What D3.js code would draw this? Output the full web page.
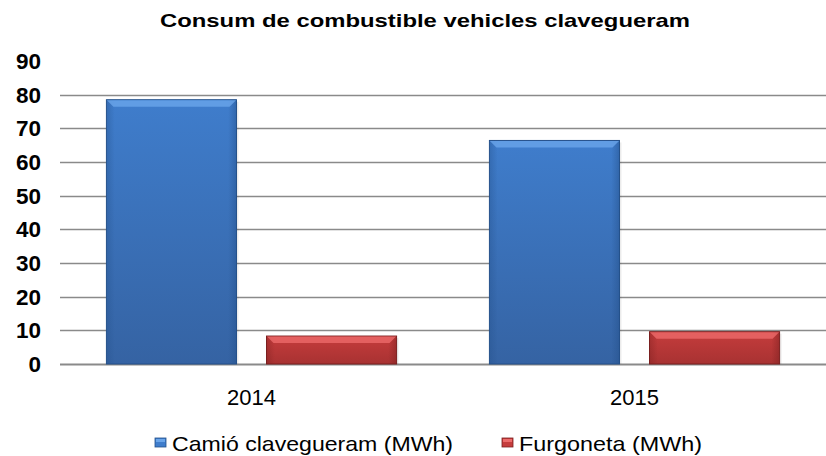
<!DOCTYPE html>
<html>
<head>
<meta charset="utf-8">
<script src="https://cdn.jsdelivr.net/npm/d3@7/dist/d3.min.js"></script>
<style>
  body { margin: 0; background: #fff; }
  text { font-family: "Liberation Sans", Arial, sans-serif; fill: #000; }
</style>
</head>
<body>
<div id="chart"></div>
<script>
// data
var years = ["2014", "2015"];
var seriesNames = ["Camió clavegueram (MWh)", "Furgoneta (MWh)"];
var camio = [78.5, 66.4];
var furgoneta = [8.3, 9.6];
var yTicks = [0, 10, 20, 30, 40, 50, 60, 70, 80, 90];

const width = 826, height = 456;
const margin = {top: 61, right: 0, bottom: 92, left: 60};
const colors = [
  {main: "#3f7dcc", top: "#6aa5ea", bottom: "#3563a3", edge: "#24508a"},
  {main: "#c53c3c", top: "#ec6a6a", bottom: "#a83232", edge: "#7a1f1f"}
];

var svg = d3.select("#chart").append("svg")
    .attr("width", width)
    .attr("height", height);

var defs = svg.append("defs");
colors.forEach(function(c, i) {
  var g = defs.append("linearGradient")
      .attr("id", "grad" + i)
      .attr("x1", 0).attr("y1", 0).attr("x2", 0).attr("y2", 1);
  g.append("stop").attr("offset", "0%").attr("stop-color", c.main);
  g.append("stop").attr("offset", "100%").attr("stop-color", c.bottom);
  var h = defs.append("linearGradient")
      .attr("id", "side" + i)
      .attr("x1", 0).attr("y1", 0).attr("x2", 1).attr("y2", 0);
  h.append("stop").attr("offset", "0%").attr("stop-color", c.edge).attr("stop-opacity", 0.35);
  h.append("stop").attr("offset", "6%").attr("stop-color", c.edge).attr("stop-opacity", 0);
  h.append("stop").attr("offset", "94%").attr("stop-color", c.edge).attr("stop-opacity", 0);
  h.append("stop").attr("offset", "100%").attr("stop-color", c.edge).attr("stop-opacity", 0.45);
});

var plotW = width - margin.left - margin.right;
var plotH = height - margin.top - margin.bottom;

var x0 = d3.scaleBand().domain(years).range([0, plotW]);
var x1 = d3.scaleBand().domain([0, 1]).range([0, x0.bandwidth()])
    .paddingInner(0.1875).paddingOuter(0.29);
var y = d3.scaleLinear().domain([0, 90]).range([plotH, 0]);

var g = svg.append("g")
    .attr("transform", "translate(" + margin.left + "," + margin.top + ")");

// gridlines (no line at 90)
g.selectAll("line.grid")
    .data(yTicks.filter(function(d) { return d < 90; }))
    .enter().append("line")
    .attr("class", "grid")
    .attr("x1", 0).attr("x2", plotW)
    .attr("y1", function(d) { return Math.round(y(d)) + 0.5; })
    .attr("y2", function(d) { return Math.round(y(d)) + 0.5; })
    .attr("stroke", "#8a8a8a")
    .attr("stroke-width", function(d) { return d == 0 ? 2 : 1.3; });

// y tick labels
g.selectAll("text.ytick")
    .data(yTicks)
    .enter().append("text")
    .attr("class", "ytick")
    .attr("x", -19)
    .attr("y", function(d) { return y(d); })
    .attr("dy", "0.36em")
    .attr("text-anchor", "end")
    .style("font-size", "22.5px")
    .style("font-weight", "bold")
    .text(function(d) { return d; });

// bars
var rows = [];
years.forEach(function(yr, i) {
  rows.push({year: yr, s: 0, v: camio[i]});
  rows.push({year: yr, s: 1, v: furgoneta[i]});
});

var bars = g.selectAll("g.bar")
    .data(rows)
    .enter().append("g")
    .attr("class", "bar")
    .attr("transform", function(d) { return "translate(" + (x0(d.year) + x1(d.s)) + ",0)"; });

bars.append("rect")
    .attr("x", 2).attr("y", function(d) { return y(d.v) + 2; })
    .attr("width", x1.bandwidth())
    .attr("height", function(d) { return plotH - y(d.v) - 2; })
    .attr("fill", "#000").attr("opacity", 0.08);

bars.append("rect")
    .attr("x", 0).attr("y", function(d) { return y(d.v); })
    .attr("width", x1.bandwidth())
    .attr("height", function(d) { return plotH - y(d.v); })
    .attr("fill", function(d) { return "url(#grad" + d.s + ")"; })
    .attr("stroke", function(d) { return colors[d.s].edge; })
    .attr("stroke-width", 1);

bars.append("rect")
    .attr("x", 0.5).attr("y", function(d) { return y(d.v); })
    .attr("width", x1.bandwidth() - 1)
    .attr("height", function(d) { return plotH - y(d.v); })
    .attr("fill", function(d) { return "url(#side" + d.s + ")"; });

// top bevel
bars.append("path")
    .attr("d", function(d) {
      var t = y(d.v), w = x1.bandwidth(), b = 7;
      return "M0.5," + (t + 0.5) + "L" + (w - 0.5) + "," + (t + 0.5) +
             "L" + (w - b) + "," + (t + b) + "L" + b + "," + (t + b) + "Z";
    })
    .attr("fill", function(d) { return colors[d.s].top; })
    .attr("opacity", 0.8);

// category labels
g.selectAll("text.xtick")
    .data(years)
    .enter().append("text")
    .attr("class", "xtick")
    .attr("x", function(d) { return x0(d) + x0.bandwidth() / 2; })
    .attr("y", plotH + 41)
    .attr("text-anchor", "middle")
    .style("font-size", "22px")
    .text(function(d) { return d; });

// title
svg.append("text")
    .attr("x", 160)
    .attr("y", 27)
    .attr("textLength", 530)
    .attr("lengthAdjust", "spacingAndGlyphs")
    .style("font-size", "19px")
    .style("font-weight", "bold")
    .text("Consum de combustible vehicles clavegueram");

// legend
var legendX = [155, 502];
var legendLen = [281, 183];
var legend = svg.selectAll("g.legend")
    .data(seriesNames)
    .enter().append("g")
    .attr("class", "legend")
    .attr("transform", function(d, i) { return "translate(" + legendX[i] + ",438)"; });

legend.append("rect")
    .attr("width", 11).attr("height", 9)
    .attr("fill", function(d, i) { return colors[i].main; })
    .attr("stroke", function(d, i) { return colors[i].edge; })
    .attr("stroke-width", 0.8);
legend.append("rect")
    .attr("x", 1).attr("y", 1).attr("width", 9).attr("height", 3)
    .attr("fill", function(d, i) { return colors[i].top; });

legend.append("text")
    .attr("x", 17)
    .attr("y", 12.5)
    .attr("textLength", function(d, i) { return legendLen[i]; })
    .attr("lengthAdjust", "spacingAndGlyphs")
    .style("font-size", "21px")
    .text(function(d) { return d; });
</script>
</body>
</html>
